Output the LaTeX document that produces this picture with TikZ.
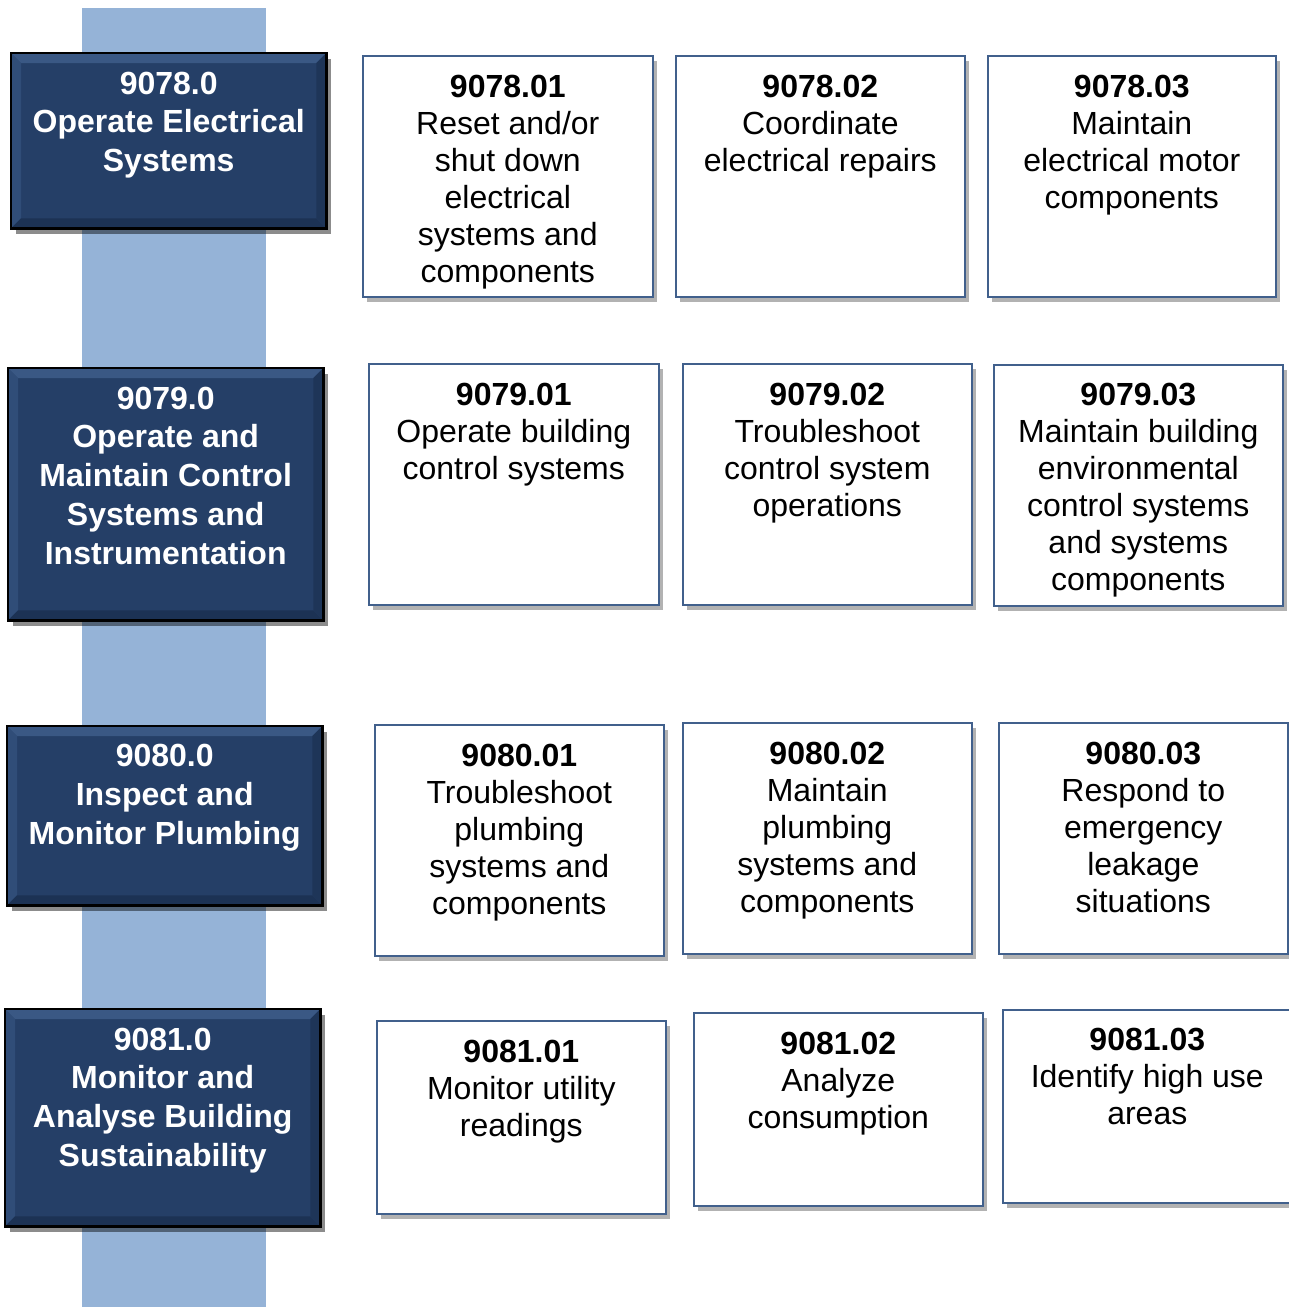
\documentclass[tikz,border=0pt]{standalone}
\usepackage{fontspec}
\setmainfont{Liberation Sans}
\usetikzlibrary{shadows}
\definecolor{barblue}{HTML}{95B3D7}
\definecolor{unitblue}{HTML}{253F67}
\definecolor{bevtop}{HTML}{3A5884}
\definecolor{bevleft}{HTML}{304D78}
\definecolor{bevbot}{HTML}{1C3254}
\definecolor{bevright}{HTML}{1E3558}
\definecolor{boxline}{HTML}{41608C}
\tikzset{
  cbox/.style={draw=boxline, line width=1.6pt, fill=white, inner sep=0pt, anchor=north west,
    drop shadow={shadow xshift=4pt, shadow yshift=-5pt, fill=black, opacity=0.3}},
  ubox/.style={fill=unitblue, inner sep=0pt, anchor=north west,
    drop shadow={shadow xshift=5pt, shadow yshift=-6pt, fill=black, opacity=0.45}},
  uborder/.style={draw=black, line width=2.2pt},
  ctext/.style={anchor=north, inner sep=0pt, align=center, text=black,
    font=\fontsize{32}{37}\selectfont},
  utext/.style={anchor=north, inner sep=0pt, align=center, text=white,
    font=\bfseries\fontsize{32}{38.8}\selectfont},
}
\newcommand{\bevelbox}[1]{%
  \fill[bevtop] (#1.north west) -- (#1.north east) -- ([shift={(-10,10)}]#1.north east) -- ([shift={(10,10)}]#1.north west) -- cycle;
  \fill[bevleft] (#1.north west) -- (#1.south west) -- ([shift={(10,-10)}]#1.south west) -- ([shift={(10,10)}]#1.north west) -- cycle;
  \fill[bevbot] (#1.south west) -- (#1.south east) -- ([shift={(-10,-10)}]#1.south east) -- ([shift={(10,-10)}]#1.south west) -- cycle;
  \fill[bevright] (#1.north east) -- (#1.south east) -- ([shift={(-10,-10)}]#1.south east) -- ([shift={(-10,10)}]#1.north east) -- cycle;
  \draw[uborder] (#1.north west) rectangle (#1.south east);
}
\begin{document}
\begin{tikzpicture}[x=1pt,y=-1pt]
\useasboundingbox (0,0) rectangle (1289,1307);
\fill[white] (0,0) rectangle (1289,1307);
% vertical bar
\fill[barblue] (82,8) rectangle (266,1307);

% unit boxes
\node[ubox, minimum width=315pt, minimum height=175pt] (u78) at (11,53) {};
\bevelbox{u78}
\node[utext] (tu78) at ([yshift=-18.5]u78.north) {9078.0\\Operate Electrical\\Systems};

\node[ubox, minimum width=315pt, minimum height=252pt] (u79) at (8,368) {};
\bevelbox{u79}
\node[utext] (tu79) at ([yshift=-18.5]u79.north) {9079.0\\Operate and\\Maintain Control\\Systems and\\Instrumentation};

\node[ubox, minimum width=315pt, minimum height=179pt] (u80) at (7,726) {};
\bevelbox{u80}
\node[utext] (tu80) at ([yshift=-18]u80.north) {9080.0\\Inspect and\\Monitor Plumbing};

\node[ubox, minimum width=315pt, minimum height=217pt] (u81) at (5,1009) {};
\bevelbox{u81}
\node[utext] (tu81) at ([yshift=-18.5]u81.north) {9081.0\\Monitor and\\Analyse Building\\Sustainability};

% row 1
\node[cbox, minimum width=290pt, minimum height=241pt] (c781) at (362,55) {};
\node[ctext] (t781) at ([yshift=-19.5]c781.north) {\textbf{9078.01}\\Reset and/or\\shut down\\electrical\\systems and\\components};
\node[cbox, minimum width=289pt, minimum height=241pt] (c782) at (675,55) {};
\node[ctext] (t782) at ([yshift=-19.5]c782.north) {\textbf{9078.02}\\Coordinate\\electrical repairs};
\node[cbox, minimum width=288pt, minimum height=241pt] (c783) at (987,55) {};
\node[ctext] (t783) at ([yshift=-19.5]c783.north) {\textbf{9078.03}\\Maintain\\electrical motor\\components};

% row 2
\node[cbox, minimum width=290pt, minimum height=241pt] (c791) at (368,363) {};
\node[ctext] (t791) at ([yshift=-19.5]c791.north) {\textbf{9079.01}\\Operate building\\control systems};
\node[cbox, minimum width=289pt, minimum height=241pt] (c792) at (682,363) {};
\node[ctext] (t792) at ([yshift=-19.5]c792.north) {\textbf{9079.02}\\Troubleshoot\\control system\\operations};
\node[cbox, minimum width=289pt, minimum height=241pt] (c793) at (993,364) {};
\node[ctext] (t793) at ([yshift=-18.5]c793.north) {\textbf{9079.03}\\Maintain building\\environmental\\control systems\\and systems\\components};

% row 3
\node[cbox, minimum width=289pt, minimum height=231pt] (c801) at (374,724) {};
\node[ctext] (t801) at ([yshift=-19.5]c801.north) {\textbf{9080.01}\\Troubleshoot\\plumbing\\systems and\\components};
\node[cbox, minimum width=289pt, minimum height=231pt] (c802) at (682,722) {};
\node[ctext] (t802) at ([yshift=-19.5]c802.north) {\textbf{9080.02}\\Maintain\\plumbing\\systems and\\components};
\node[cbox, minimum width=289pt, minimum height=231pt] (c803) at (998,722) {};
\node[ctext] (t803) at ([yshift=-19.5]c803.north) {\textbf{9080.03}\\Respond to\\emergency\\leakage\\situations};

% row 4
\node[cbox, minimum width=289pt, minimum height=193pt] (c811) at (376,1020) {};
\node[ctext] (t811) at ([yshift=-19.5]c811.north) {\textbf{9081.01}\\Monitor utility\\readings};
\node[cbox, minimum width=289pt, minimum height=193pt] (c812) at (693,1012) {};
\node[ctext] (t812) at ([yshift=-19.5]c812.north) {\textbf{9081.02}\\Analyze\\consumption};
\node[cbox, minimum width=292pt, minimum height=193pt] (c813) at (1002,1009) {};
\node[ctext] (t813) at ([xshift=-1.5,yshift=-18.5]c813.north) {\textbf{9081.03}\\Identify high use\\areas};
\end{tikzpicture}
\end{document}
